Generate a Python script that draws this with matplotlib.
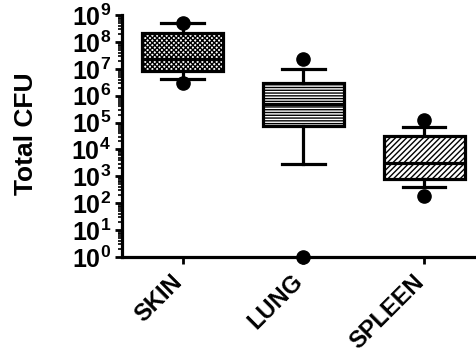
import matplotlib
matplotlib.use('Agg')
import matplotlib.pyplot as plt
import matplotlib.transforms as mtransforms
import numpy as np
from matplotlib.ticker import LogLocator, FuncFormatter

plt.rcParams['font.family'] = ['Liberation Sans', 'DejaVu Sans']
plt.rcParams['font.weight'] = 'bold'
plt.rcParams['mathtext.fontset'] = 'custom'
plt.rcParams['mathtext.rm'] = 'Liberation Sans:bold'
plt.rcParams['mathtext.bf'] = 'Liberation Sans:bold'
plt.rcParams['mathtext.it'] = 'Liberation Sans:bold'
plt.rcParams['hatch.linewidth'] = 1.0

# данные
organs = ['SKIN', 'LUNG', 'SPLEEN']
q1 = [8.2e6, 7.7e4, 7.9e2]
med = [2.4e7, 5.1e5, 3.1e3]
q3 = [2.2e8, 2.9e6, 3.1e4]
wlo = [4.3e6, 2.9e3, 3.9e2]
whi = [4.9e8, 9.5e6, 6.6e4]
fliers = [[5.0e8, 2.9e6], [2.4e7, 1.0], [1.2e5, 1.9e2]]
hatches = ['xxxxxxx', '------', '//////']

stats = []
for i, name in enumerate(organs):
    stats.append(dict(label=name, q1=q1[i], med=med[i], q3=q3[i],
                      whislo=wlo[i], whishi=whi[i], fliers=[]))

fig = plt.figure(figsize=(4.77, 3.58), dpi=100)
ax = fig.add_axes([0.256, 0.282, 0.75, 0.676])

lw = 2.3
bp = ax.bxp(stats, positions=[1, 2, 3], widths=0.667, patch_artist=True,
            showfliers=False,
            boxprops=dict(linewidth=lw, edgecolor='black', facecolor='white'),
            medianprops=dict(linewidth=lw, color='black'),
            whiskerprops=dict(linewidth=lw, color='black'),
            capprops=dict(linewidth=lw, color='black'),
            capwidths=0.35)
for box, h in zip(bp['boxes'], hatches):
    box.set_hatch(h)

for i, f in enumerate(fliers):
    ax.plot([i + 1] * len(f), f, 'o', color='black', markersize=9.5,
            clip_on=False, zorder=5)

ax.set_yscale('log')
ax.set_ylim(1, 1e9)
ax.set_xlim(0.5, 3.46)
ax.yaxis.set_major_locator(LogLocator(base=10, numticks=12))
ax.yaxis.set_minor_locator(LogLocator(base=10, subs=np.arange(2, 10), numticks=12))
ax.yaxis.set_major_formatter(FuncFormatter(lambda v, p: r'$\mathbf{10^{%d}}$' % round(np.log10(v))))

# подписи категорий под углом 45°
ax.set_xticks([1, 2, 3])
ax.set_xticklabels([])
trans = ax.get_xaxis_transform() + mtransforms.ScaledTranslation(-12 / 100, -13 / 100, fig.dpi_scale_trans)
for i, name in enumerate(organs):
    ax.text(i + 1, 0, name, transform=trans, rotation=45, ha='right', va='top',
            rotation_mode='anchor', fontsize=17, fontweight='bold')

ax.tick_params(axis='y', which='major', labelsize=18, length=5, width=2, pad=3)
ax.tick_params(axis='y', which='minor', length=3, width=1.2)
ax.tick_params(axis='x', length=5, width=2)

for s in ['top', 'right']:
    ax.spines[s].set_visible(False)
for s in ['left', 'bottom']:
    ax.spines[s].set_linewidth(2.3)

ax.set_ylabel('Total CFU', fontsize=19, fontweight='bold')
ax.yaxis.set_label_coords(-0.235, 0.51)

fig.savefig('out.png', dpi=100)
